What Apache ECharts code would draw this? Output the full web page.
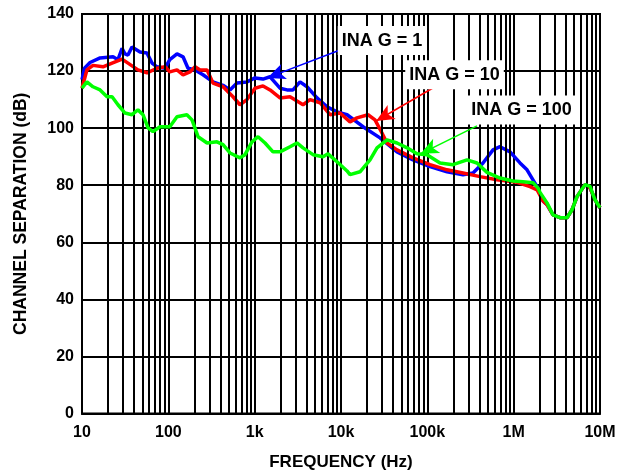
<!DOCTYPE html>
<html>
<head>
<meta charset="utf-8">
<script src="https://cdn.jsdelivr.net/npm/echarts@6/dist/echarts.min.js"></script>
<style>
  html, body { margin: 0; padding: 0; background: #fff; }
  #chart { width: 619px; height: 476px; }
</style>
</head>
<body>
<div id="chart"></div>
<script>
// 通道隔离度 vs 频率
var dom = document.getElementById("chart")
var myChart = echarts.init(dom)

var FONT = "Liberation Sans, Arial, sans-serif"

// 横轴刻度文字 (10 .. 10M)
var xTickLabels = ['10', '100', '1k', '10k', '100k', '1M', '10M']
var yTicks = [0, 20, 40, 60, 80, 100, 120, 140]

// 三条曲线 [频率 Hz, dB]
var gain1Data = [
    [10, 117], [10.7, 121], [12.4, 123], [16.2, 124.6], [22.9, 125], [26.1, 124],
    [29.1, 128], [31.5, 126], [34.1, 125.6], [37.9, 128.4], [47, 126.7], [56.6, 126.3],
    [64.7, 122.8], [73.9, 121.5], [91.5, 121], [104, 124], [126, 126], [148, 125],
    [169, 121], [204, 120.4], [252, 118.7], [329, 116.2], [430, 115], [518, 113.4],
    [624, 115.8], [815, 116.2], [1009, 117.6], [1250, 117.2], [1507, 118], [1966, 114],
    [2370, 113.4], [2780, 113.4], [3350, 116.2], [4036, 114.5], [5272, 110.6], [6886, 107.5],
    [8995, 105.7], [11750, 104.7], [17990, 100.5], [28310, 96.6], [44560, 91.7], [68260, 88.9],
    [107400, 86.5], [169100, 84.7], [258900, 83.7], [338100, 84.3], [441600, 87.8], [576600, 92.4],
    [694900, 93.5], [907600, 91.7], [1184000, 87.8], [1428000, 85.4], [1864000, 79.5], [2188000, 74.5],
    [2433000, 73.2], [2856000, 69.6], [3441000, 68.6], [4148000, 68.6], [4740000, 71.4],
    [5417000, 76], [6704000, 80.2], [7656000, 79.1], [8750000, 74.9], [10000000, 72.1]
]
var gain10Data = [
    [10, 114], [11.4, 120.4], [13.4, 122], [17.5, 121.5], [22.3, 122.8], [29.1, 124.2],
    [34.1, 122.8], [44.5, 120.4], [56.6, 119.4], [73.9, 121], [91.5, 121.5], [104, 119.7],
    [126, 120.4], [148, 118.7], [178, 119.7], [204, 121.5], [233, 120.4], [281, 120.4],
    [329, 115.8], [430, 114.5], [561, 111], [676, 108.2], [815, 110], [1009, 114],
    [1250, 114.8], [1507, 113.4], [1966, 110.6], [2567, 111], [3631, 108.2], [4373, 110],
    [5715, 108.9], [7461, 104.7], [9750, 105.3], [12710, 102.2], [15310, 103.6], [20560, 104.7],
    [24770, 102.9], [29850, 98.3], [34120, 94.8], [44560, 92.4], [68260, 89.6], [107400, 87.2],
    [169100, 85.4], [258900, 84.3], [407600, 83], [641100, 81.9], [1093000, 81], [1547000, 79.5],
    [1864000, 78.4], [2188000, 74.5], [2433000, 73.2], [2856000, 69.6], [3441000, 68.6],
    [4148000, 68.6], [4740000, 71.4], [5417000, 76], [6704000, 80.2], [7656000, 79.1],
    [8750000, 74.9], [10000000, 72.1]
]
var gain100Data = [
    [10, 114], [11.4, 116.2], [13.4, 114.5], [16.2, 113.4], [19.5, 111], [22.3, 111],
    [26.1, 108.2], [31.5, 105.3], [37.9, 104.7], [44.5, 106.4], [50.9, 104.7], [58.2, 100.1],
    [66.4, 98.8], [80.1, 100.5], [104, 100.5], [126, 104], [164, 104.7], [188, 102.9],
    [221, 97], [281, 94.8], [366, 95.2], [430, 94.2], [518, 91.3], [676, 89.6],
    [773, 90.7], [931, 95.2], [1094, 97], [1319, 94.8], [1630, 91.7], [1966, 91.7],
    [2567, 93.5], [3091, 94.8], [3631, 93.1], [4740, 90.7], [6193, 90], [7074, 91],
    [8995, 88.2], [11750, 85], [12710, 83.7], [16600, 84.7], [21680, 88.9], [26130, 93.1],
    [34120, 95.9], [44560, 94.8], [58210, 93.1], [75870, 91], [99100, 90.7], [140300, 87.8],
    [198300, 87.2], [288300, 88.9], [376000, 87.8], [491100, 84.5], [694900, 82.5], [982600, 81.5],
    [1283000, 81.2], [1676000, 80.9], [1914000, 79], [2019000, 77.5], [2433000, 73.8],
    [2856000, 69.6], [3441000, 68.6], [4148000, 68.6], [4740000, 71.4], [5417000, 76],
    [6704000, 80.2], [7656000, 79.6], [8750000, 74.9], [10000000, 72.1]
]

// 标注: 文字位置 + 箭头起止 (数据坐标)
var seriesNames = ['INA G = 1', 'INA G = 10', 'INA G = 100']
var seriesColors = ['#0000ff', '#ff0000', '#00ff00']
var labelPos = [[29850, 130.7], [206500, 118.7], [1233000, 106.4]]
var arrowFrom = [[9750, 127.4], [122700, 114.5], [376000, 100.8]]
var arrowTo = [[1400, 117.6], [25500, 102.5], [83500, 91]]

// 对数副网格线 2..9
var minorLines = []
for (var d = 10; d < 1e7; d *= 10) {
    for (var k = 2; k <= 9; k++) minorLines.push({ xAxis: d * k })
}

function buildSeries() {
    var datas = [gain1Data, gain10Data, gain100Data]
    var list = [{
        type: 'line',
        name: 'grid',
        silent: true,
        data: [],
        z: 1,
        markLine: {
            silent: true,
            symbol: ['none', 'none'],
            label: { show: false },
            lineStyle: { color: '#000', width: 2, type: 'solid' },
            emphasis: { disabled: true },
            animation: false,
            data: minorLines
        }
    }]
    datas.forEach(function (d, i) {
        list.push({
            type: 'line',
            name: seriesNames[i],
            data: d,
            z: 3 + i,
            symbol: 'none',
            smooth: false,
            lineStyle: { color: seriesColors[i], width: 3.5 },
            itemStyle: { color: seriesColors[i] },
            markLine: {
                silent: true,
                symbol: ['none', 'arrow'],
                symbolSize: [12, 18],
                label: { show: false },
                lineStyle: { color: seriesColors[i], width: 1.5, type: 'solid' },
                animation: false,
                data: [[{ coord: arrowFrom[i] }, { coord: arrowTo[i] }]]
            },
            markPoint: {
                silent: true,
                symbol: 'rect',
                symbolSize: 0,
                animation: false,
                label: {
                    show: true,
                    position: 'inside',
                    formatter: seriesNames[i],
                    color: '#000',
                    fontFamily: FONT,
                    fontWeight: 'bold',
                    fontSize: 18,
                    backgroundColor: '#fff',
                    padding: [6, 4, 5, 4]
                },
                data: [{ coord: labelPos[i] }]
            }
        })
    })
    return list
}

var option = {
    animation: false,
    backgroundColor: '#fff',
    grid: {
        left: 82, right: 19, top: 14, bottom: 62,
        show: true, borderColor: '#000', borderWidth: 2, backgroundColor: 'transparent'
    },
    xAxis: {
        type: 'log',
        logBase: 10,
        min: 10,
        max: 1e7,
        name: 'FREQUENCY (Hz)',
        nameLocation: 'middle',
        nameGap: 49,
        nameTextStyle: { color: '#000', fontFamily: FONT, fontWeight: 'bold', fontSize: 17, verticalAlign: 'middle' },
        axisLine: { lineStyle: { color: '#000', width: 2 } },
        axisTick: { show: false },
        axisLabel: {
            color: '#000', fontFamily: FONT, fontWeight: 'bold', fontSize: 16, margin: 11,
            formatter: function (v) { return xTickLabels[Math.round(Math.log10(v)) - 1] }
        },
        splitLine: { show: true, lineStyle: { color: '#000', width: 2 } }
    },
    yAxis: {
        type: 'value',
        min: 0,
        max: 140,
        interval: 20,
        name: 'CHANNEL SEPARATION (dB)',
        nameLocation: 'middle',
        nameGap: 61,
        nameTextStyle: { color: '#000', fontFamily: FONT, fontWeight: 'bold', fontSize: 17.5, verticalAlign: 'middle' },
        axisLine: { show: true, lineStyle: { color: '#000', width: 2 } },
        axisTick: { show: false },
        axisLabel: {
            color: '#000', fontFamily: FONT, fontWeight: 'bold', fontSize: 16, margin: 8,
            formatter: function (v) { return yTicks.indexOf(v) >= 0 ? String(v) : '' }
        },
        splitLine: { show: true, lineStyle: { color: '#000', width: 2 } }
    },
    series: buildSeries()
}

myChart.setOption(option)
</script>
</body>
</html>
